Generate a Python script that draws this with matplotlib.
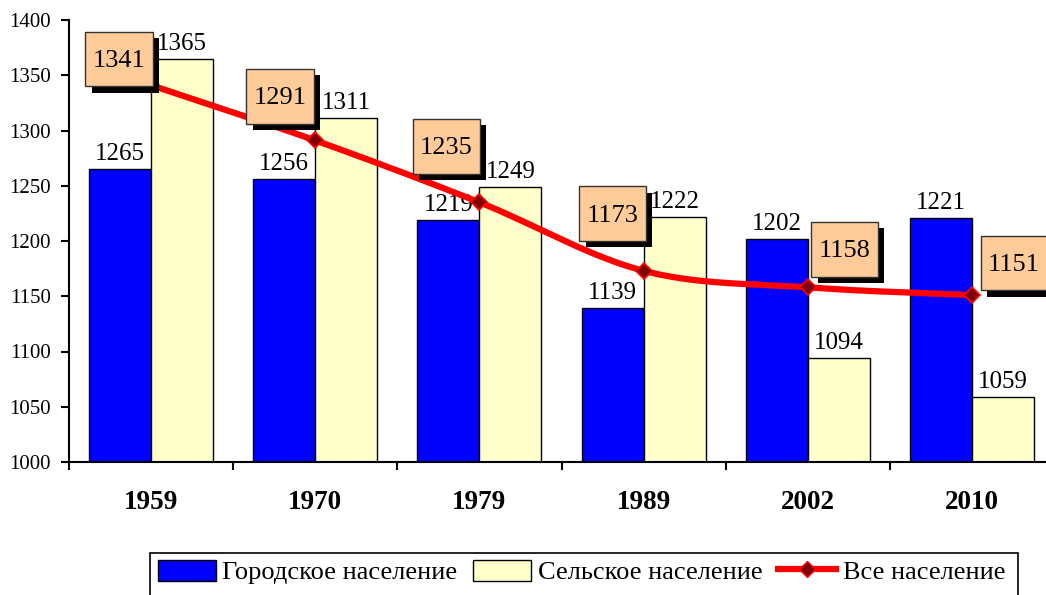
import numpy as np
import matplotlib.pyplot as plt
import matplotlib.patheffects as pe
from matplotlib.patches import Patch, Rectangle
from matplotlib.path import Path
from matplotlib.lines import Line2D

years = ['1959', '1970', '1979', '1989', '2002', '2010']
urban = [1265, 1256, 1219, 1139, 1202, 1221]
rural = [1365, 1311, 1249, 1222, 1094, 1059]
total = [1341, 1291, 1235, 1173, 1158, 1151]
# offsets of the total-label boxes from their points (pixels)
box_dx = [-32, -35, -33, -31, 37, 42]
box_dy = [24, 42, 54, 55, 36, 30]

plt.rcParams['font.family'] = ['Liberation Serif', 'DejaVu Serif']

fig = plt.figure(figsize=(10.46, 5.95), dpi=100)
ax = fig.add_axes([69 / 1046, 1 - 462 / 595, 985 / 1046, 442 / 595])

x = np.arange(len(years))
w = 0.378
ax.bar(x - w / 2, urban, w, color='#0000FF', edgecolor='black', linewidth=1, zorder=2)
ax.bar(x + w / 2, rural, w, color='#FFFFCC', edgecolor='black', linewidth=1, zorder=2)

for xi, u, r in zip(x, urban, rural):
    ax.annotate(str(u), (xi - w / 2, u), xytext=(0, 3), textcoords='offset points',
                ha='center', va='bottom', fontsize=18, zorder=3)
    ax.annotate(str(r), (xi + w / 2, r), xytext=(0, 3), textcoords='offset points',
                ha='center', va='bottom', fontsize=18, zorder=3)


# smooth line through the points (Catmull-Rom)
def smooth(xs, ys, n=30):
    xs = np.asarray(xs, float)
    ys = np.asarray(ys, float)
    px = np.concatenate([[2 * xs[0] - xs[1]], xs, [2 * xs[-1] - xs[-2]]])
    py = np.concatenate([[2 * ys[0] - ys[1]], ys, [2 * ys[-1] - ys[-2]]])
    ox, oy = [], []
    t = np.linspace(0, 1, n, endpoint=False)
    for i in range(1, len(px) - 2):
        for arr, out in ((px, ox), (py, oy)):
            p0, p1, p2, p3 = arr[i - 1], arr[i], arr[i + 1], arr[i + 2]
            out.extend(0.5 * (2 * p1 + (-p0 + p2) * t + (2 * p0 - 5 * p1 + 4 * p2 - p3) * t ** 2
                              + (-p0 + 3 * p1 - 3 * p2 + p3) * t ** 3))
    ox.append(xs[-1])
    oy.append(ys[-1])
    return np.array(ox), np.array(oy)


# box with more vertical padding than horizontal, a bit more on top
def tall_box(x0, y0, width, height, mutation_size):
    px = 0.28 * mutation_size
    pb = 0.54 * mutation_size
    pt = 0.70 * mutation_size
    x1, y1 = x0 + width + px, y0 + height + pt
    x0, y0 = x0 - px, y0 - pb
    return Path([(x0, y0), (x1, y0), (x1, y1), (x0, y1), (x0, y0)], closed=True)


sx, sy = smooth(x, total)
ax.plot(sx, sy, color='#FF0000', lw=4.5, zorder=4, solid_capstyle='round')
ax.plot(x, total, ls='none', marker='D', ms=8, mfc='#800000', mec='#FF0000', mew=1.2, zorder=5)

for xi, t, dx, dy in zip(x, total, box_dx, box_dy):
    a = ax.annotate(str(t), (xi, t), xytext=(dx, dy), textcoords='offset pixels',
                    ha='center', va='center', fontsize=19, zorder=6,
                    bbox=dict(boxstyle=tall_box, fc='#FFCC99', ec='#333333', lw=1))
    a.get_bbox_patch().set_path_effects([
        pe.SimplePatchShadow(offset=(4.5, -4.5), shadow_rgbFace='black', alpha=1), pe.Normal()])

ax.set_ylim(1000, 1400)
ax.set_yticks(range(1000, 1401, 50))
ax.set_xlim(-0.5, len(years) - 0.5)
ax.set_xticks(x)
ax.set_xticklabels(years, fontsize=19.5, fontweight='bold')
ax.set_xticks(np.arange(-0.5, len(years)), minor=True)
ax.tick_params(axis='x', which='major', length=0, pad=20)
ax.tick_params(axis='x', which='minor', length=6, width=1.5, direction='out')
ax.tick_params(axis='y', length=6, width=1.5, direction='out', labelsize=15, pad=7)
for s in ('top', 'right'):
    ax.spines[s].set_visible(False)
ax.spines['left'].set_linewidth(1.5)
ax.spines['bottom'].set_linewidth(1.5)

handles = [
    Patch(fc='#0000FF', ec='black', lw=1),
    Patch(fc='#FFFFCC', ec='black', lw=1),
    Line2D([], [], color='#FF0000', lw=4.5, marker='D', ms=8, mfc='#800000', mec='#FF0000'),
]
labels = ['Городское население', 'Сельское население', 'Все население']
leg = fig.legend(handles, labels, loc='upper left', bbox_to_anchor=(155 / 1046, 1 - 557 / 595),
                 borderaxespad=0, ncol=3, fontsize=19, frameon=False,
                 handlelength=2.2, handleheight=0.85, handletextpad=0.25, columnspacing=0.6,
                 borderpad=0.1)
# legend frame runs past the bottom edge
fig.patches.append(Rectangle((150 / 1046, -0.05), 868 / 1046, 0.05 + 42 / 595,
                             transform=fig.transFigure, fill=False, ec='black', lw=1.2))

fig.savefig('out.png', dpi=100)
